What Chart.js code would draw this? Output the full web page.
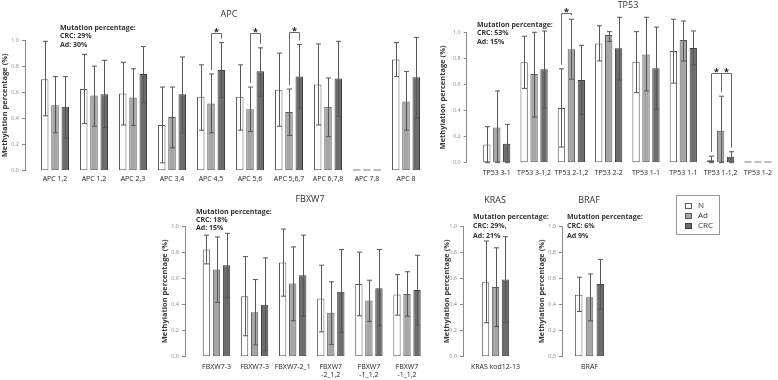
<!DOCTYPE html>
<html><head><meta charset="utf-8">
<script src="https://cdn.jsdelivr.net/npm/chart.js@4.4.1/dist/chart.umd.min.js"></script>
<style>
html,body{margin:0;padding:0;background:#fff;}
body{width:778px;height:380px;position:relative;overflow:hidden;font-family:'Open Sans',sans-serif;}
.t{position:absolute;font-size:9px;color:#333;transform:translate(-50%,-50%);white-space:nowrap;line-height:10px;}
.m{position:absolute;font-size:7px;font-weight:bold;color:#333;white-space:nowrap;}
.lg{position:absolute;left:676px;top:195px;width:44px;height:40px;border:1px solid #999;box-sizing:border-box;}
.li{position:absolute;left:8px;font-size:8px;color:#333;line-height:10px;height:10px;}
.sw{position:absolute;left:0;top:2.5px;width:5px;height:4px;border:1px solid #555;}
.li span.tx{position:absolute;left:13px;top:0;}
</style></head><body>
<script>
// ---------------- DATA ----------------
const seriesNames = ['N', 'Ad', 'CRC'];
const yTicks = [0, 0.2, 0.4, 0.6, 0.8, 1.0];

const apcLabels = ['APC 1,2', 'APC 1,2', 'APC 2,3', 'APC 3,4', 'APC 4,5', 'APC 5,6', 'APC 5,6,7', 'APC 6,7,8', 'APC 7,8', 'APC 8'];
const apcN     = [0.70, 0.625, 0.59, 0.35, 0.565, 0.565, 0.62, 0.66, 0, 0.85];
const apcNLo   = [0.42, 0.36, 0.35, 0.06, 0.31, 0.31, 0.34, 0.35, null, 0.72];
const apcNHi   = [0.99, 0.89, 0.83, 0.64, 0.81, 0.81, 0.90, 0.97, null, 0.98];
const apcAd    = [0.50, 0.575, 0.56, 0.41, 0.515, 0.47, 0.45, 0.49, 0, 0.53];
const apcAdLo  = [0.29, 0.34, 0.345, 0.175, 0.29, 0.30, 0.27, 0.26, null, 0.31];
const apcAdHi  = [0.72, 0.80, 0.78, 0.64, 0.74, 0.64, 0.625, 0.71, null, 0.76];
const apcCRC   = [0.49, 0.585, 0.74, 0.585, 0.77, 0.76, 0.72, 0.705, 0, 0.715];
const apcCRCLo = [0.25, 0.33, 0.52, 0.29, 0.56, 0.57, 0.48, 0.415, null, 0.40];
const apcCRCHi = [0.72, 0.845, 0.95, 0.87, 0.98, 0.94, 0.965, 0.99, null, 1.02];
const apcSig   = [{cat: 4, a: 1, b: 2, level: 1.05}, {cat: 5, a: 1, b: 2, level: 1.05}, {cat: 6, a: 1, b: 2, level: 1.06}];

const tpLabels = ['TP53 3-1', 'TP53 3-1,2', 'TP53 2-1,2', 'TP53 2-2', 'TP53 1-1', 'TP53 1-1', 'TP53 1-1,2', 'TP53 1-2'];
const tpN     = [0.14, 0.77, 0.42, 0.915, 0.775, 0.857, 0.018, 0];
const tpNLo   = [0.0, 0.57, 0.12, 0.78, 0.537, 0.61, 0.0, null];
const tpNHi   = [0.276, 0.97, 0.72, 1.05, 1.005, 1.10, 0.05, null];
const tpAd    = [0.27, 0.68, 0.87, 0.98, 0.83, 0.94, 0.245, 0];
const tpAdLo  = [0.0, 0.35, 0.64, 0.93, 0.55, 0.78, 0.0, null];
const tpAdHi  = [0.55, 1.0, 1.10, 1.005, 1.115, 1.087, 0.51, null];
const tpCRC   = [0.146, 0.716, 0.634, 0.877, 0.724, 0.88, 0.046, 0];
const tpCRCLo = [0.0, 0.42, 0.37, 0.634, 0.41, 0.75, 0.0, null];
const tpCRCHi = [0.294, 1.01, 0.90, 1.115, 1.04, 1.01, 0.084, null];
const tpSig   = [{cat: 2, a: 0, b: 1, level: 1.15}, {cat: 6, a: 0, b: 1, level: 0.686}, {cat: 6, a: 1, b: 2, level: 0.686}];

const fbLabels = ['FBXW7-3', 'FBXW7-3', 'FBXW7-2_1', ['FBXW7', '-2_1,2'], ['FBXW7', '-1_1,2'], ['FBXW7', '-1_1,2']];
const fbN     = [0.82, 0.463, 0.72, 0.445, 0.557, 0.476];
const fbNLo   = [0.71, 0.16, 0.463, 0.19, 0.313, 0.318];
const fbNHi   = [0.93, 0.766, 0.977, 0.70, 0.80, 0.628];
const fbAd    = [0.667, 0.34, 0.56, 0.336, 0.43, 0.48];
const fbAdLo  = [0.415, 0.09, 0.275, 0.094, 0.27, 0.31];
const fbAdHi  = [0.916, 0.59, 0.84, 0.573, 0.585, 0.65];
const fbCRC   = [0.70, 0.397, 0.623, 0.496, 0.524, 0.51];
const fbCRCLo = [0.45, 0.046, 0.31, 0.186, 0.237, 0.242];
const fbCRCHi = [0.944, 0.756, 0.93, 0.82, 0.82, 0.776];

const krLabels = ['KRAS kod12-13'];
const krN = [0.57],  krNLo = [0.26],  krNHi = [0.885];
const krAd = [0.533], krAdLo = [0.23], krAdHi = [0.833];
const krCRC = [0.59], krCRCLo = [0.26], krCRCHi = [0.918];

const brLabels = ['BRAF'];
const brN = [0.474],  brNLo = [0.346], brNHi = [0.608];
const brAd = [0.454], brAdLo = [0.274], brAdHi = [0.633];
const brCRC = [0.556], brCRCLo = [0.364], brCRCHi = [0.744];

const titles = [
  {text: 'APC', x: 229, y: 14}, {text: 'TP53', x: 628, y: 5},
  {text: 'FBXW7', x: 310, y: 199}, {text: 'KRAS', x: 495, y: 200}, {text: 'BRAF', x: 589, y: 200}
];
const mutationNotes = [
  {lines: ['Mutation percentage:', 'CRC: 29%', 'Ad: 30%'], x: 60, y: 28, lh: 8.4},
  {lines: ['Mutation percentage:', 'CRC: 53%', 'Ad: 15%'], x: 477, y: 25, lh: 8.4},
  {lines: ['Mutation percentage:', 'CRC: 18%', 'Ad: 15%'], x: 196, y: 211.7, lh: 8},
  {lines: ['Mutation percentage:', 'CRC: 29%,', 'Ad: 21%'], x: 473, y: 216.7, lh: 9.2},
  {lines: ['Mutation percentage:', 'CRC: 6%', 'Ad 9%'], x: 567, y: 216.7, lh: 9.2}
];

// ---------------- STYLE ----------------
const FONT = "'Open Sans', sans-serif";
Chart.defaults.font.family = FONT;
const fills = ['#ffffff', '#a6a6a6', '#6c6c6c'];
const borders = ['#5a5a5a', '#5a5a5a', '#3c3c3c'];

const errPlugin = {
  id: 'errbars',
  afterDatasetsDraw(chart) {
    const ctx = chart.ctx, ys = chart.scales.y;
    ctx.save();
    chart.data.datasets.forEach((ds, di) => {
      const meta = chart.getDatasetMeta(di);
      meta.data.forEach((bar, i) => {
        const v = ds.data[i].y;
        if (v === 0) {
          ctx.fillStyle = '#a8a8a8';
          ctx.fillRect(bar.x - bar.width / 2, ys.getPixelForValue(0) - 1.5, bar.width, 1.5);
        }
        const lo = ds.errLo[i], hi = ds.errHi[i];
        if (lo == null || hi == null) return;
        const x = Math.round(bar.x) + 0.5;
        const yl = ys.getPixelForValue(lo), yh = ys.getPixelForValue(hi);
        ctx.strokeStyle = '#575757';
        ctx.lineWidth = 1;
        ctx.beginPath();
        ctx.moveTo(x, yl); ctx.lineTo(x, yh);
        ctx.moveTo(x - 2.5, yl); ctx.lineTo(x + 2.5, yl);
        ctx.moveTo(x - 2.5, yh); ctx.lineTo(x + 2.5, yh);
        ctx.stroke();
      });
    });
    const sig = chart.options.plugins.sig || [];
    sig.forEach(s => {
      const ba = chart.getDatasetMeta(s.a).data[s.cat];
      const bb = chart.getDatasetMeta(s.b).data[s.cat];
      const da = chart.data.datasets[s.a], db = chart.data.datasets[s.b];
      const xa = Math.round(ba.x) + 0.5, xb = Math.round(bb.x) + 0.5;
      const yLev = Math.round(ys.getPixelForValue(s.level)) + 0.5;
      const ya = ys.getPixelForValue(da.errHi[s.cat]) - 4;
      const yb = ys.getPixelForValue(db.errHi[s.cat]) - 4;
      ctx.strokeStyle = '#6a6a6a';
      ctx.lineWidth = 1;
      ctx.beginPath();
      ctx.moveTo(xa, ya); ctx.lineTo(xa, yLev); ctx.lineTo(xb, yLev); ctx.lineTo(xb, yb);
      ctx.stroke();
      ctx.fillStyle = '#222';
      ctx.font = 'bold 9px ' + FONT;
      ctx.textAlign = 'center';
      ctx.textBaseline = 'alphabetic';
      ctx.fillText('*', (xa + xb) / 2, yLev + 1.5);
    });
    ctx.restore();
  }
};

function panel(o) {
  const cv = document.createElement('canvas');
  cv.width = o.w; cv.height = o.h;
  cv.style.cssText = `position:absolute;left:${o.left}px;top:${o.top}px;width:${o.w}px;height:${o.h}px;`;
  document.body.appendChild(cv);
  const chartLeft = o.axisX - o.left;
  const xMin = -(o.firstX - o.axisX) / o.unit;
  const xMax = (o.rightX - o.firstX) / o.unit;
  const padRight = o.left + o.w - o.rightX;
  const titleLH = 7.5 * 1.2;
  const titlePad = Math.max(0, o.titleX - o.left - titleLH / 2);
  const datasets = o.series.map((s, k) => ({
    label: seriesNames[k],
    data: s.v.map((v, i) => ({x: i, y: v})),
    errLo: s.lo, errHi: s.hi,
    backgroundColor: fills[k], borderColor: borders[k], borderWidth: 1, borderSkipped: false,
    categoryPercentage: o.catPct, barPercentage: o.barPct
  }));
  new Chart(cv, {
    type: 'bar',
    data: {datasets},
    options: {
      responsive: false, animation: false, devicePixelRatio: 1,
      layout: {padding: {top: o.yTop - o.top, right: padRight, left: 0, bottom: 0}},
      plugins: {legend: {display: false}, tooltip: {enabled: false}, sig: o.sig || []},
      scales: {
        x: {
          type: 'linear', min: xMin, max: xMax, offset: false, bounds: 'data',
          grid: {display: false, drawTicks: false, offset: false}, border: {display: false},
          afterBuildTicks: s => { s.ticks = o.labels.map((_, i) => ({value: i})); },
          afterFit: s => { s.height = o.top + o.h - o.yBottom; },
          ticks: {autoSkip: false, maxRotation: 0, minRotation: 0, padding: o.labelPad, color: '#1e1e1e',
                  font: {size: 7, family: FONT}, callback: (v, i) => o.labels[i]}
        },
        y: {
          min: 0, max: 1,
          afterBuildTicks: s => { s.ticks = yTicks.map(v => ({value: v})); },
          afterFit: s => { s.width = chartLeft; },
          ticks: {callback: v => v.toFixed(1), font: {size: 5.5, family: FONT}, color: '#8a8a8a', padding: 3},
          grid: {display: true, drawOnChartArea: false, drawTicks: true, tickLength: 3, color: '#8a8a8a'},
          border: {display: true, color: '#8a8a8a', width: 1},
          title: {display: true, text: 'Methylation percentage (%)', color: '#3a3a3a',
                  font: {size: 7.5, weight: 'bold', family: FONT}, padding: {top: titlePad, bottom: 0}}
        }
      }
    },
    plugins: [errPlugin]
  });
}

panel({left: 0, top: 0, w: 430, h: 190, axisX: 25, yTop: 40, yBottom: 170.7, titleX: 5,
  firstX: 55, unit: 39, rightX: 425.5, catPct: 0.79, barPct: 0.73, labelPad: 4,
  labels: apcLabels, sig: apcSig,
  series: [{v: apcN, lo: apcNLo, hi: apcNHi}, {v: apcAd, lo: apcAdLo, hi: apcAdHi}, {v: apcCRC, lo: apcCRCLo, hi: apcCRCHi}]});

panel({left: 435, top: 0, w: 343, h: 190, axisX: 466.7, yTop: 32.3, yBottom: 162.7, titleX: 443,
  firstX: 497, unit: 37.6, rightX: 778, catPct: 0.8, barPct: 0.74, labelPad: 6,
  labels: tpLabels, sig: tpSig,
  series: [{v: tpN, lo: tpNLo, hi: tpNHi}, {v: tpAd, lo: tpAdLo, hi: tpAdHi}, {v: tpCRC, lo: tpCRCLo, hi: tpCRCHi}]});

panel({left: 158, top: 190, w: 272, h: 190, axisX: 185, yTop: 226, yBottom: 356.7, titleX: 165,
  firstX: 216.5, unit: 38.1, rightX: 426, catPct: 0.79, barPct: 0.73, labelPad: 6,
  labels: fbLabels,
  series: [{v: fbN, lo: fbNLo, hi: fbNHi}, {v: fbAd, lo: fbAdLo, hi: fbAdHi}, {v: fbCRC, lo: fbCRCLo, hi: fbCRCHi}]});

panel({left: 440, top: 190, w: 90, h: 190, axisX: 463, yTop: 226, yBottom: 356.7, titleX: 447,
  firstX: 495.5, unit: 65, rightX: 528, catPct: 0.46, barPct: 0.74, labelPad: 6,
  labels: krLabels,
  series: [{v: krN, lo: krNLo, hi: krNHi}, {v: krAd, lo: krAdLo, hi: krAdHi}, {v: krCRC, lo: krCRCLo, hi: krCRCHi}]});

panel({left: 535, top: 190, w: 85, h: 190, axisX: 562, yTop: 226, yBottom: 356.7, titleX: 542,
  firstX: 589.5, unit: 55, rightX: 617, catPct: 0.59, barPct: 0.7, labelPad: 6,
  labels: brLabels,
  series: [{v: brN, lo: brNLo, hi: brNHi}, {v: brAd, lo: brAdLo, hi: brAdHi}, {v: brCRC, lo: brCRCLo, hi: brCRCHi}]});

// titles and notes
titles.forEach(t => {
  const d = document.createElement('div');
  d.className = 't'; d.textContent = t.text;
  d.style.left = t.x + 'px'; d.style.top = t.y + 'px';
  document.body.appendChild(d);
});
mutationNotes.forEach(n => {
  n.lines.forEach((ln, i) => {
    const d = document.createElement('div');
    d.className = 'm'; d.textContent = ln;
    d.style.left = n.x + 'px';
    d.style.top = (n.y + i * n.lh - n.lh / 2) + 'px';
    d.style.lineHeight = n.lh + 'px';
    document.body.appendChild(d);
  });
});
// legend
const lg = document.createElement('div');
lg.className = 'lg';
seriesNames.forEach((nm, k) => {
  const it = document.createElement('div');
  it.className = 'li';
  it.style.top = (4 + k * 10) + 'px';
  it.innerHTML = `<span class="sw" style="background:${fills[k]};border-color:${borders[k]}"></span><span class="tx">${nm}</span>`;
  lg.appendChild(it);
});
document.body.appendChild(lg);
</script>
</body></html>
